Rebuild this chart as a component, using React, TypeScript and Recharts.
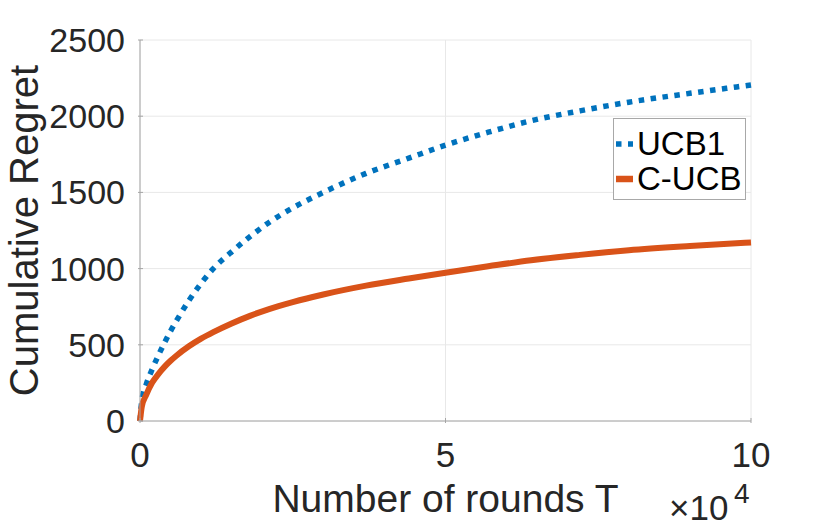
import React from 'react';
import { LineChart, Line, XAxis, YAxis, CartesianGrid, Legend, Label } from 'recharts';

// rounds T and the regret
const rounds = [0, 300, 1000, 2000, 3000, 4000, 5000, 6000, 8000, 10000, 12000, 15000, 18000, 21000, 25000, 30000, 37000, 44000, 50000, 57000, 64000, 72000, 80000, 90000, 100000];
const ucb1Regret = [0, 135, 238, 340, 430, 513, 590, 660, 790, 903, 1000, 1110, 1210, 1300, 1398, 1500, 1625, 1725, 1810, 1895, 1970, 2035, 2092, 2150, 2205];
const cucbRegret = [0, 95, 170, 252, 308, 355, 395, 430, 490, 540, 583, 640, 690, 733, 780, 830, 888, 935, 973, 1015, 1055, 1090, 1120, 1148, 1172];
const seriesNames = ['UCB1', 'C-UCB'];

const xTicks = [0, 50000, 100000];
const yTicks = [0, 500, 1000, 1500, 2000, 2500];

const BLUE = '#0072BD';
const ORANGE = '#D95319';
const FONT = '"Liberation Sans", Arial, Helvetica, sans-serif';
const TEXT = '#262626';
const AXIS = '#a6a6a6';

const data = rounds.map((t, i) => ({ t, ucb1: ucb1Regret[i], cucb: cucbRegret[i] }));

const XTick = (props: any) => {
    const { x, y, payload } = props;
    return (
        <g>
            <line x1={x} x2={x} y1={y} y2={y - 5} stroke={AXIS} />
            <text x={x} y={y + 44} textAnchor="middle" fontSize={35} fontFamily={FONT} fill={TEXT}>
                {payload.value / 10000}
            </text>
        </g>
    );
};

const YTick = (props: any) => {
    const { x, y, payload } = props;
    return (
        <g>
            <line x1={x} x2={x + 5} y1={y} y2={y} stroke={AXIS} />
            <text x={x - 13} y={y + 12} textAnchor="end" fontSize={34} fontFamily={FONT} fill={TEXT}>
                {payload.value}
            </text>
        </g>
    );
};

const LegendBox = (props: any) => {
    const { payload } = props;
    const items = seriesNames.map((n) => payload.find((p: any) => p.value === n)).filter(Boolean);
    return (
        <div style={{ position: 'relative', width: 131, height: 80, border: '1px solid #a8a8a8', background: '#fff' }}>
            {items.map((entry: any, i: number) => (
                <div key={entry.value} style={{ position: 'absolute', left: 0, top: i === 0 ? 6 : 41, height: 38, display: 'flex', alignItems: 'center' }}>
                    <svg width={21} height={10} style={{ marginLeft: 2 }}>
                        <line x1={0} x2={17} y1={5} y2={5} stroke={entry.color} strokeWidth={i === 0 ? 5.5 : 6.5}
                            strokeDasharray={entry.payload && entry.payload.strokeDasharray} />
                    </svg>
                    <span style={{ fontFamily: FONT, fontSize: 33, color: '#000', lineHeight: '38px' }}>{entry.value}</span>
                </div>
            ))}
        </div>
    );
};

const App = () => {
    return (
        <div style={{ position: 'absolute', left: 0, top: 0, width: 830, height: 527, background: '#fff' }}>
            <LineChart width={830} height={527} data={data} margin={{ top: 40, right: 79, left: 80, bottom: 76 }}>
                <CartesianGrid stroke="#e8e8e8" horizontalValues={yTicks} verticalValues={xTicks} />
                <XAxis dataKey="t" type="number" domain={[0, 100000]} ticks={xTicks} height={30}
                    stroke={AXIS} tickLine={false} tickSize={0} tick={<XTick />} interval={0}>
                    <Label content={(p: any) => {
                        const vb = p.viewBox;
                        return (
                            <g>
                                <text x={vb.x + vb.width / 2} y={vb.y + 91} textAnchor="middle" fontSize={39} fontFamily={FONT} fill={TEXT}>
                                    Number of rounds T
                                </text>
                                <text x={669} y={520} fontSize={35} fontFamily={FONT} fill={TEXT}>
                                    ×10
                                </text>
                                <text x={734} y={503} fontSize={28} fontFamily={FONT} fill={TEXT}>
                                    4
                                </text>
                            </g>
                        );
                    }} />
                </XAxis>
                <YAxis type="number" domain={[0, 2500]} ticks={yTicks} width={60} stroke={AXIS}
                    tickLine={false} tickSize={0} tick={<YTick />} interval={0}>
                    <Label content={(p: any) => {
                        const vb = p.viewBox;
                        const cy = vb.y + vb.height / 2;
                        return (
                            <text x={38} y={cy} transform={`rotate(-90, 38, ${cy})`} textAnchor="middle"
                                fontSize={40} fontFamily={FONT} fill={TEXT}>
                                Cumulative Regret
                            </text>
                        );
                    }} />
                </YAxis>
                <Line type="monotone" dataKey="ucb1" name="UCB1" stroke={BLUE} strokeWidth={5.5}
                    strokeDasharray="5.5 6.5" dot={false} isAnimationActive={false} />
                <Line type="monotone" dataKey="cucb" name="C-UCB" stroke={ORANGE} strokeWidth={6}
                    dot={false} isAnimationActive={false} />
                <Legend layout="vertical" align="center" verticalAlign="middle" content={<LegendBox />}
                    wrapperStyle={{ position: 'absolute', left: 613, top: 118, width: 133, height: 82 }} />
            </LineChart>
        </div>
    );
};

export default App;
